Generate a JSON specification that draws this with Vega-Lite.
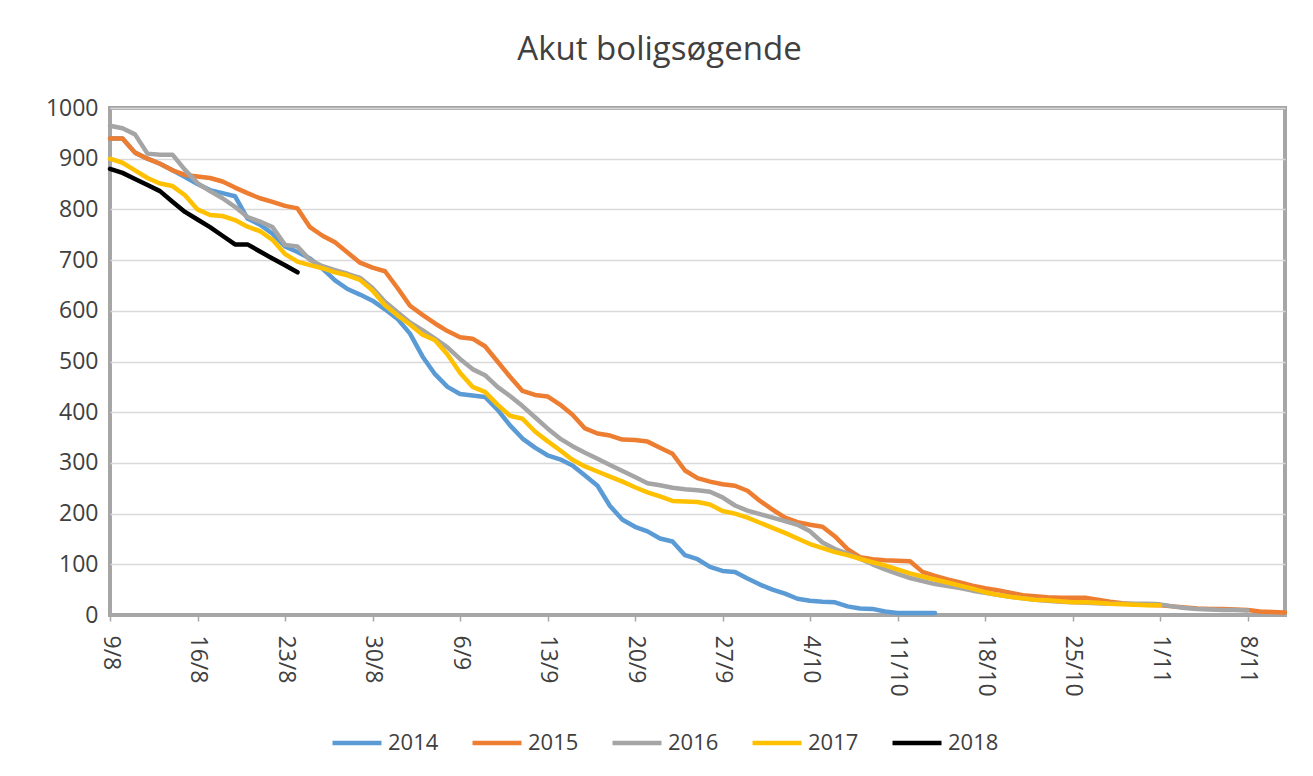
{
"$schema":"https://vega.github.io/schema/vega-lite/v6.json",
"width":1175,"height":507,
"autosize":{"type":"none"},
"padding":{"left":110,"top":108,"right":28,"bottom":161},
"background":"white",
"title":{"text":"Akut boligsøgende","font":"Open Sans","fontSize":33,"fontWeight":"normal","color":"#404040","anchor":"middle","dx":-38,"offset":30},
"data":{"values":[
{"year":"2014","date":"2018-08-09","value":940},{"year":"2014","date":"2018-08-10","value":940},{"year":"2014","date":"2018-08-11","value":912},{"year":"2014","date":"2018-08-12","value":900},{"year":"2014","date":"2018-08-13","value":890},{"year":"2014","date":"2018-08-14","value":877},{"year":"2014","date":"2018-08-15","value":864},{"year":"2014","date":"2018-08-16","value":850},{"year":"2014","date":"2018-08-17","value":838},{"year":"2014","date":"2018-08-18","value":832},{"year":"2014","date":"2018-08-19","value":826},{"year":"2014","date":"2018-08-20","value":782},{"year":"2014","date":"2018-08-21","value":770},{"year":"2014","date":"2018-08-22","value":752},{"year":"2014","date":"2018-08-23","value":727},{"year":"2014","date":"2018-08-24","value":716},{"year":"2014","date":"2018-08-25","value":703},{"year":"2014","date":"2018-08-26","value":683},{"year":"2014","date":"2018-08-27","value":660},{"year":"2014","date":"2018-08-28","value":643},{"year":"2014","date":"2018-08-29","value":632},{"year":"2014","date":"2018-08-30","value":620},{"year":"2014","date":"2018-08-31","value":603},{"year":"2014","date":"2018-09-01","value":584},{"year":"2014","date":"2018-09-02","value":555},{"year":"2014","date":"2018-09-03","value":510},{"year":"2014","date":"2018-09-04","value":475},{"year":"2014","date":"2018-09-05","value":450},{"year":"2014","date":"2018-09-06","value":436},{"year":"2014","date":"2018-09-07","value":433},{"year":"2014","date":"2018-09-08","value":430},{"year":"2014","date":"2018-09-09","value":405},{"year":"2014","date":"2018-09-10","value":374},{"year":"2014","date":"2018-09-11","value":348},{"year":"2014","date":"2018-09-12","value":330},{"year":"2014","date":"2018-09-13","value":315},{"year":"2014","date":"2018-09-14","value":307},{"year":"2014","date":"2018-09-15","value":295},{"year":"2014","date":"2018-09-16","value":275},{"year":"2014","date":"2018-09-17","value":255},{"year":"2014","date":"2018-09-18","value":215},{"year":"2014","date":"2018-09-19","value":188},{"year":"2014","date":"2018-09-20","value":174},{"year":"2014","date":"2018-09-21","value":165},{"year":"2014","date":"2018-09-22","value":151},{"year":"2014","date":"2018-09-23","value":145},{"year":"2014","date":"2018-09-24","value":118},{"year":"2014","date":"2018-09-25","value":110},{"year":"2014","date":"2018-09-26","value":95},{"year":"2014","date":"2018-09-27","value":87},{"year":"2014","date":"2018-09-28","value":85},{"year":"2014","date":"2018-09-29","value":72},{"year":"2014","date":"2018-09-30","value":60},{"year":"2014","date":"2018-10-01","value":50},{"year":"2014","date":"2018-10-02","value":42},{"year":"2014","date":"2018-10-03","value":32},{"year":"2014","date":"2018-10-04","value":28},{"year":"2014","date":"2018-10-05","value":26},{"year":"2014","date":"2018-10-06","value":25},{"year":"2014","date":"2018-10-07","value":17},{"year":"2014","date":"2018-10-08","value":13},{"year":"2014","date":"2018-10-09","value":12},{"year":"2014","date":"2018-10-10","value":7},{"year":"2014","date":"2018-10-11","value":4},{"year":"2014","date":"2018-10-12","value":4},{"year":"2014","date":"2018-10-13","value":4},{"year":"2014","date":"2018-10-14","value":4},
{"year":"2015","date":"2018-08-09","value":940},{"year":"2015","date":"2018-08-10","value":940},{"year":"2015","date":"2018-08-11","value":912},{"year":"2015","date":"2018-08-12","value":900},{"year":"2015","date":"2018-08-13","value":890},{"year":"2015","date":"2018-08-14","value":877},{"year":"2015","date":"2018-08-15","value":868},{"year":"2015","date":"2018-08-16","value":865},{"year":"2015","date":"2018-08-17","value":862},{"year":"2015","date":"2018-08-18","value":855},{"year":"2015","date":"2018-08-19","value":843},{"year":"2015","date":"2018-08-20","value":832},{"year":"2015","date":"2018-08-21","value":822},{"year":"2015","date":"2018-08-22","value":815},{"year":"2015","date":"2018-08-23","value":807},{"year":"2015","date":"2018-08-24","value":802},{"year":"2015","date":"2018-08-25","value":765},{"year":"2015","date":"2018-08-26","value":748},{"year":"2015","date":"2018-08-27","value":735},{"year":"2015","date":"2018-08-28","value":715},{"year":"2015","date":"2018-08-29","value":695},{"year":"2015","date":"2018-08-30","value":685},{"year":"2015","date":"2018-08-31","value":678},{"year":"2015","date":"2018-09-01","value":645},{"year":"2015","date":"2018-09-02","value":610},{"year":"2015","date":"2018-09-03","value":592},{"year":"2015","date":"2018-09-04","value":575},{"year":"2015","date":"2018-09-05","value":560},{"year":"2015","date":"2018-09-06","value":548},{"year":"2015","date":"2018-09-07","value":545},{"year":"2015","date":"2018-09-08","value":530},{"year":"2015","date":"2018-09-09","value":500},{"year":"2015","date":"2018-09-10","value":470},{"year":"2015","date":"2018-09-11","value":442},{"year":"2015","date":"2018-09-12","value":434},{"year":"2015","date":"2018-09-13","value":431},{"year":"2015","date":"2018-09-14","value":415},{"year":"2015","date":"2018-09-15","value":395},{"year":"2015","date":"2018-09-16","value":368},{"year":"2015","date":"2018-09-17","value":358},{"year":"2015","date":"2018-09-18","value":354},{"year":"2015","date":"2018-09-19","value":346},{"year":"2015","date":"2018-09-20","value":345},{"year":"2015","date":"2018-09-21","value":342},{"year":"2015","date":"2018-09-22","value":330},{"year":"2015","date":"2018-09-23","value":318},{"year":"2015","date":"2018-09-24","value":285},{"year":"2015","date":"2018-09-25","value":270},{"year":"2015","date":"2018-09-26","value":263},{"year":"2015","date":"2018-09-27","value":258},{"year":"2015","date":"2018-09-28","value":255},{"year":"2015","date":"2018-09-29","value":245},{"year":"2015","date":"2018-09-30","value":225},{"year":"2015","date":"2018-10-01","value":208},{"year":"2015","date":"2018-10-02","value":192},{"year":"2015","date":"2018-10-03","value":183},{"year":"2015","date":"2018-10-04","value":178},{"year":"2015","date":"2018-10-05","value":174},{"year":"2015","date":"2018-10-06","value":155},{"year":"2015","date":"2018-10-07","value":130},{"year":"2015","date":"2018-10-08","value":114},{"year":"2015","date":"2018-10-09","value":110},{"year":"2015","date":"2018-10-10","value":108},{"year":"2015","date":"2018-10-11","value":107},{"year":"2015","date":"2018-10-12","value":106},{"year":"2015","date":"2018-10-13","value":85},{"year":"2015","date":"2018-10-14","value":77},{"year":"2015","date":"2018-10-15","value":70},{"year":"2015","date":"2018-10-16","value":64},{"year":"2015","date":"2018-10-17","value":58},{"year":"2015","date":"2018-10-18","value":53},{"year":"2015","date":"2018-10-19","value":49},{"year":"2015","date":"2018-10-20","value":44},{"year":"2015","date":"2018-10-21","value":39},{"year":"2015","date":"2018-10-22","value":37},{"year":"2015","date":"2018-10-23","value":35},{"year":"2015","date":"2018-10-24","value":34},{"year":"2015","date":"2018-10-25","value":34},{"year":"2015","date":"2018-10-26","value":34},{"year":"2015","date":"2018-10-27","value":30},{"year":"2015","date":"2018-10-28","value":26},{"year":"2015","date":"2018-10-29","value":23},{"year":"2015","date":"2018-10-30","value":21},{"year":"2015","date":"2018-10-31","value":20},{"year":"2015","date":"2018-11-01","value":19},{"year":"2015","date":"2018-11-02","value":17},{"year":"2015","date":"2018-11-03","value":15},{"year":"2015","date":"2018-11-04","value":13},{"year":"2015","date":"2018-11-05","value":12},{"year":"2015","date":"2018-11-06","value":12},{"year":"2015","date":"2018-11-07","value":11},{"year":"2015","date":"2018-11-08","value":10},{"year":"2015","date":"2018-11-09","value":7},{"year":"2015","date":"2018-11-10","value":6},{"year":"2015","date":"2018-11-11","value":5},
{"year":"2016","date":"2018-08-09","value":965},{"year":"2016","date":"2018-08-10","value":960},{"year":"2016","date":"2018-08-11","value":948},{"year":"2016","date":"2018-08-12","value":910},{"year":"2016","date":"2018-08-13","value":908},{"year":"2016","date":"2018-08-14","value":908},{"year":"2016","date":"2018-08-15","value":878},{"year":"2016","date":"2018-08-16","value":852},{"year":"2016","date":"2018-08-17","value":836},{"year":"2016","date":"2018-08-18","value":822},{"year":"2016","date":"2018-08-19","value":805},{"year":"2016","date":"2018-08-20","value":785},{"year":"2016","date":"2018-08-21","value":776},{"year":"2016","date":"2018-08-22","value":765},{"year":"2016","date":"2018-08-23","value":730},{"year":"2016","date":"2018-08-24","value":727},{"year":"2016","date":"2018-08-25","value":700},{"year":"2016","date":"2018-08-26","value":688},{"year":"2016","date":"2018-08-27","value":680},{"year":"2016","date":"2018-08-28","value":673},{"year":"2016","date":"2018-08-29","value":665},{"year":"2016","date":"2018-08-30","value":645},{"year":"2016","date":"2018-08-31","value":618},{"year":"2016","date":"2018-09-01","value":597},{"year":"2016","date":"2018-09-02","value":577},{"year":"2016","date":"2018-09-03","value":562},{"year":"2016","date":"2018-09-04","value":545},{"year":"2016","date":"2018-09-05","value":528},{"year":"2016","date":"2018-09-06","value":505},{"year":"2016","date":"2018-09-07","value":485},{"year":"2016","date":"2018-09-08","value":473},{"year":"2016","date":"2018-09-09","value":450},{"year":"2016","date":"2018-09-10","value":432},{"year":"2016","date":"2018-09-11","value":412},{"year":"2016","date":"2018-09-12","value":390},{"year":"2016","date":"2018-09-13","value":368},{"year":"2016","date":"2018-09-14","value":348},{"year":"2016","date":"2018-09-15","value":333},{"year":"2016","date":"2018-09-16","value":320},{"year":"2016","date":"2018-09-17","value":308},{"year":"2016","date":"2018-09-18","value":296},{"year":"2016","date":"2018-09-19","value":284},{"year":"2016","date":"2018-09-20","value":272},{"year":"2016","date":"2018-09-21","value":260},{"year":"2016","date":"2018-09-22","value":256},{"year":"2016","date":"2018-09-23","value":251},{"year":"2016","date":"2018-09-24","value":248},{"year":"2016","date":"2018-09-25","value":246},{"year":"2016","date":"2018-09-26","value":243},{"year":"2016","date":"2018-09-27","value":232},{"year":"2016","date":"2018-09-28","value":216},{"year":"2016","date":"2018-09-29","value":206},{"year":"2016","date":"2018-09-30","value":199},{"year":"2016","date":"2018-10-01","value":192},{"year":"2016","date":"2018-10-02","value":185},{"year":"2016","date":"2018-10-03","value":178},{"year":"2016","date":"2018-10-04","value":165},{"year":"2016","date":"2018-10-05","value":143},{"year":"2016","date":"2018-10-06","value":130},{"year":"2016","date":"2018-10-07","value":121},{"year":"2016","date":"2018-10-08","value":111},{"year":"2016","date":"2018-10-09","value":100},{"year":"2016","date":"2018-10-10","value":90},{"year":"2016","date":"2018-10-11","value":81},{"year":"2016","date":"2018-10-12","value":73},{"year":"2016","date":"2018-10-13","value":67},{"year":"2016","date":"2018-10-14","value":61},{"year":"2016","date":"2018-10-15","value":57},{"year":"2016","date":"2018-10-16","value":53},{"year":"2016","date":"2018-10-17","value":48},{"year":"2016","date":"2018-10-18","value":44},{"year":"2016","date":"2018-10-19","value":40},{"year":"2016","date":"2018-10-20","value":36},{"year":"2016","date":"2018-10-21","value":33},{"year":"2016","date":"2018-10-22","value":30},{"year":"2016","date":"2018-10-23","value":28},{"year":"2016","date":"2018-10-24","value":26},{"year":"2016","date":"2018-10-25","value":25},{"year":"2016","date":"2018-10-26","value":24},{"year":"2016","date":"2018-10-27","value":23},{"year":"2016","date":"2018-10-28","value":22},{"year":"2016","date":"2018-10-29","value":22},{"year":"2016","date":"2018-10-30","value":22},{"year":"2016","date":"2018-10-31","value":22},{"year":"2016","date":"2018-11-01","value":21},{"year":"2016","date":"2018-11-02","value":17},{"year":"2016","date":"2018-11-03","value":14},{"year":"2016","date":"2018-11-04","value":12},{"year":"2016","date":"2018-11-05","value":11},{"year":"2016","date":"2018-11-06","value":10},{"year":"2016","date":"2018-11-07","value":10},{"year":"2016","date":"2018-11-08","value":9},
{"year":"2017","date":"2018-08-09","value":900},{"year":"2017","date":"2018-08-10","value":892},{"year":"2017","date":"2018-08-11","value":877},{"year":"2017","date":"2018-08-12","value":862},{"year":"2017","date":"2018-08-13","value":851},{"year":"2017","date":"2018-08-14","value":846},{"year":"2017","date":"2018-08-15","value":828},{"year":"2017","date":"2018-08-16","value":800},{"year":"2017","date":"2018-08-17","value":789},{"year":"2017","date":"2018-08-18","value":787},{"year":"2017","date":"2018-08-19","value":779},{"year":"2017","date":"2018-08-20","value":766},{"year":"2017","date":"2018-08-21","value":757},{"year":"2017","date":"2018-08-22","value":740},{"year":"2017","date":"2018-08-23","value":712},{"year":"2017","date":"2018-08-24","value":697},{"year":"2017","date":"2018-08-25","value":690},{"year":"2017","date":"2018-08-26","value":684},{"year":"2017","date":"2018-08-27","value":676},{"year":"2017","date":"2018-08-28","value":670},{"year":"2017","date":"2018-08-29","value":661},{"year":"2017","date":"2018-08-30","value":640},{"year":"2017","date":"2018-08-31","value":611},{"year":"2017","date":"2018-09-01","value":591},{"year":"2017","date":"2018-09-02","value":573},{"year":"2017","date":"2018-09-03","value":553},{"year":"2017","date":"2018-09-04","value":542},{"year":"2017","date":"2018-09-05","value":514},{"year":"2017","date":"2018-09-06","value":478},{"year":"2017","date":"2018-09-07","value":450},{"year":"2017","date":"2018-09-08","value":440},{"year":"2017","date":"2018-09-09","value":415},{"year":"2017","date":"2018-09-10","value":393},{"year":"2017","date":"2018-09-11","value":387},{"year":"2017","date":"2018-09-12","value":362},{"year":"2017","date":"2018-09-13","value":343},{"year":"2017","date":"2018-09-14","value":325},{"year":"2017","date":"2018-09-15","value":306},{"year":"2017","date":"2018-09-16","value":293},{"year":"2017","date":"2018-09-17","value":283},{"year":"2017","date":"2018-09-18","value":273},{"year":"2017","date":"2018-09-19","value":263},{"year":"2017","date":"2018-09-20","value":252},{"year":"2017","date":"2018-09-21","value":242},{"year":"2017","date":"2018-09-22","value":234},{"year":"2017","date":"2018-09-23","value":225},{"year":"2017","date":"2018-09-24","value":224},{"year":"2017","date":"2018-09-25","value":223},{"year":"2017","date":"2018-09-26","value":218},{"year":"2017","date":"2018-09-27","value":205},{"year":"2017","date":"2018-09-28","value":200},{"year":"2017","date":"2018-09-29","value":192},{"year":"2017","date":"2018-09-30","value":182},{"year":"2017","date":"2018-10-01","value":172},{"year":"2017","date":"2018-10-02","value":162},{"year":"2017","date":"2018-10-03","value":151},{"year":"2017","date":"2018-10-04","value":140},{"year":"2017","date":"2018-10-05","value":132},{"year":"2017","date":"2018-10-06","value":124},{"year":"2017","date":"2018-10-07","value":118},{"year":"2017","date":"2018-10-08","value":111},{"year":"2017","date":"2018-10-09","value":104},{"year":"2017","date":"2018-10-10","value":98},{"year":"2017","date":"2018-10-11","value":90},{"year":"2017","date":"2018-10-12","value":82},{"year":"2017","date":"2018-10-13","value":76},{"year":"2017","date":"2018-10-14","value":70},{"year":"2017","date":"2018-10-15","value":64},{"year":"2017","date":"2018-10-16","value":58},{"year":"2017","date":"2018-10-17","value":52},{"year":"2017","date":"2018-10-18","value":45},{"year":"2017","date":"2018-10-19","value":40},{"year":"2017","date":"2018-10-20","value":36},{"year":"2017","date":"2018-10-21","value":33},{"year":"2017","date":"2018-10-22","value":30},{"year":"2017","date":"2018-10-23","value":29},{"year":"2017","date":"2018-10-24","value":27},{"year":"2017","date":"2018-10-25","value":25},{"year":"2017","date":"2018-10-26","value":25},{"year":"2017","date":"2018-10-27","value":24},{"year":"2017","date":"2018-10-28","value":22},{"year":"2017","date":"2018-10-29","value":21},{"year":"2017","date":"2018-10-30","value":20},{"year":"2017","date":"2018-10-31","value":19},{"year":"2017","date":"2018-11-01","value":19},
{"year":"2018","date":"2018-08-09","value":880},{"year":"2018","date":"2018-08-10","value":872},{"year":"2018","date":"2018-08-11","value":860},{"year":"2018","date":"2018-08-12","value":848},{"year":"2018","date":"2018-08-13","value":836},{"year":"2018","date":"2018-08-14","value":815},{"year":"2018","date":"2018-08-15","value":795},{"year":"2018","date":"2018-08-16","value":780},{"year":"2018","date":"2018-08-17","value":765},{"year":"2018","date":"2018-08-18","value":748},{"year":"2018","date":"2018-08-19","value":731},{"year":"2018","date":"2018-08-20","value":731},{"year":"2018","date":"2018-08-21","value":717},{"year":"2018","date":"2018-08-22","value":703},{"year":"2018","date":"2018-08-23","value":690},{"year":"2018","date":"2018-08-24","value":676}
]},
"mark":{"type":"line","strokeWidth":4.5,"strokeJoin":"round","strokeCap":"round"},
"encoding":{
"x":{"field":"date","type":"temporal","scale":{"type":"utc","domain":[{"year":2018,"month":8,"date":9,"utc":true},{"year":2018,"month":11,"date":11,"utc":true}]},
"axis":{"title":null,"grid":false,"values":[{"year":2018,"month":8,"date":9,"utc":true},{"year":2018,"month":8,"date":16,"utc":true},{"year":2018,"month":8,"date":23,"utc":true},{"year":2018,"month":8,"date":30,"utc":true},{"year":2018,"month":9,"date":6,"utc":true},{"year":2018,"month":9,"date":13,"utc":true},{"year":2018,"month":9,"date":20,"utc":true},{"year":2018,"month":9,"date":27,"utc":true},{"year":2018,"month":10,"date":4,"utc":true},{"year":2018,"month":10,"date":11,"utc":true},{"year":2018,"month":10,"date":18,"utc":true},{"year":2018,"month":10,"date":25,"utc":true},{"year":2018,"month":11,"date":1,"utc":true},{"year":2018,"month":11,"date":8,"utc":true}],
"labelExpr":"utcFormat(datum.value, '%-d/%-m')","labelAngle":90,"labelFont":"Open Sans","labelFontSize":23,"labelColor":"#404040","labelPadding":14,"tickSize":6,"tickColor":"#a6a6a6","tickWidth":1.5,"domainColor":"#a6a6a6","domainWidth":3,"labelOverlap":false,"labelFlush":false}},
"y":{"field":"value","type":"quantitative","scale":{"domain":[0,1000],"nice":false},
"axis":{"title":null,"values":[0,100,200,300,400,500,600,700,800,900,1000],"format":"d","ticks":false,"domain":false,"labelFont":"Open Sans","labelFontSize":23,"labelColor":"#404040","labelPadding":12,"gridColor":"#d9d9d9","gridWidth":1.5}},
"color":{"field":"year","type":"nominal","scale":{"domain":["2014","2015","2016","2017","2018"],"range":["#5B9BD5","#ED7D31","#A5A5A5","#FFC000","#000000"]},
"legend":{"title":null,"orient":"none","legendX":220,"legendY":608,"direction":"horizontal","symbolType":"stroke","symbolSize":2400,"symbolStrokeWidth":4.5,"labelFont":"Open Sans","labelFontSize":22,"labelColor":"#404040","labelOffset":4,"columnPadding":24}}
},
"config":{"view":{"stroke":"#a6a6a6","strokeWidth":4}}
}
